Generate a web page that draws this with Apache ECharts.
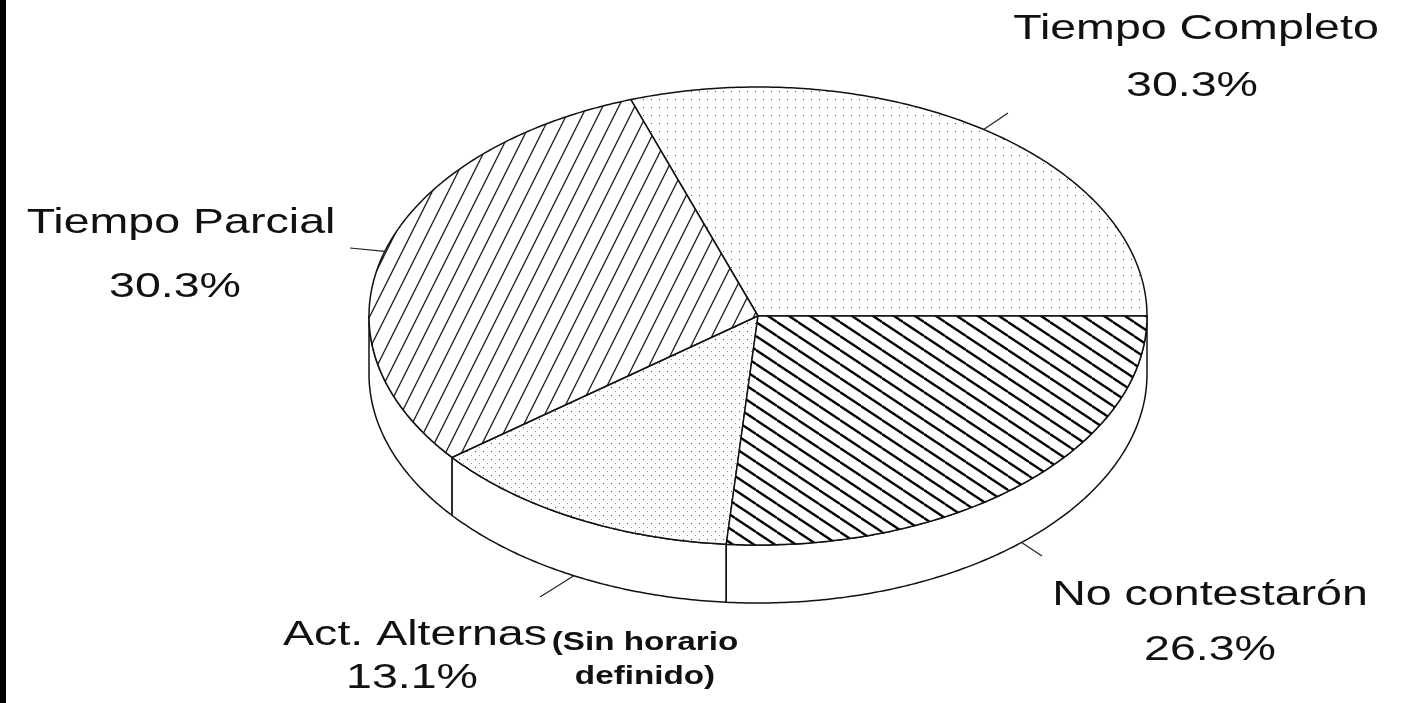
<!DOCTYPE html>
<html><head><meta charset="utf-8">
<script src="https://cdn.jsdelivr.net/npm/echarts@6/dist/echarts.min.js"></script>
<style>html,body{margin:0;padding:0;background:#fff}#c{width:1401px;height:703px}</style>
</head><body><div id="c"></div>
<script>
// ---- data ----
const categories = ['Tiempo Completo', 'Tiempo Parcial', 'Act. Alternas', 'No contestarón'];
const values = [30.3, 30.3, 13.1, 26.3];
const notes = ['', '', '(Sin horario\ndefinido)', ''];

// ---- layout / style ----
const PIE = {cx: 758, cy: 316, rx: 389, ry: 229, depth: 58};
const LABEL_LAYOUT = [
  {nameX: 1196, nameBase: 42, pctX: 1192, pctBase: 99, end: [1008, 113]},
  {nameX: 181, nameBase: 236, pctX: 175, pctBase: 300, end: [350, 248]},
  {nameX: 415, nameBase: 648, pctX: 412, pctBase: 691, end: [540, 597], noteX: 645, noteBase: [652, 686]},
  {nameX: 1210, nameBase: 608, pctX: 1210, pctBase: 663, end: [1042, 556]}
];
const FONT = 'Liberation Sans, Arial, Helvetica, sans-serif';
const FS = 35, SX = 1.33;

function makeTile(w, h, draw) {
  const c = document.createElement('canvas');
  c.width = w; c.height = h;
  const g = c.getContext('2d');
  g.fillStyle = '#fff'; g.fillRect(0, 0, w, h);
  draw(g, w, h);
  return c;
}
const dotsLight = makeTile(8, 8, (g) => { g.fillStyle = '#555'; g.fillRect(3, 3, 1, 1); });
const dotsDense = makeTile(8, 8, (g) => { g.fillStyle = '#444'; g.fillRect(3, 3, 1, 1); g.fillStyle = '#999'; g.fillRect(7, 7, 1, 1); });
const hatchUp = makeTile(16, 32, (g, w, h) => {
  g.strokeStyle = '#222'; g.lineWidth = 1.3;
  for (let k = -1; k <= 1; k++) { g.beginPath(); g.moveTo(k * w, h); g.lineTo(k * w + w, 0); g.stroke(); }
});
const hatchDown = makeTile(21, 14, (g, w, h) => {
  g.strokeStyle = '#000'; g.lineWidth = 2.3;
  for (let k = -1; k <= 1; k++) { g.beginPath(); g.moveTo(0, k * h); g.lineTo(w, k * h + h); g.stroke(); }
});
const PATTERNS = [dotsLight, hatchUp, dotsDense, hatchDown];

const total = values.reduce((a, b) => a + b, 0);
const starts = [];
let acc = 0;
values.forEach(v => { starts.push(acc); acc += v; });
const ang = p => -p / total * 2 * Math.PI;
const pt = (t, dy) => [PIE.cx + PIE.rx * Math.cos(t), PIE.cy + PIE.ry * Math.sin(t) + (dy || 0)];
function arc(t0, t1, dy) {
  const n = Math.max(2, Math.ceil(Math.abs(t1 - t0) / 0.01));
  const pts = [];
  for (let i = 0; i <= n; i++) pts.push(pt(t0 + (t1 - t0) * i / n, dy));
  return pts;
}
function txt(x, base, s, fs, bold) {
  return {
    type: 'text', x: x, y: base - fs * 0.36, scaleX: SX, silent: true,
    style: {text: s, x: 0, y: 0, fill: '#111', fontSize: fs, fontFamily: FONT,
            fontWeight: bold ? 'bold' : 'normal', align: 'center', verticalAlign: 'middle'}
  };
}

function renderItem(params, api) {
  const i = params.dataIndex;
  const v = api.value(0);
  const a0 = ang(starts[i]), a1 = ang(starts[i] + v);
  const children = [];
  const lo = Math.max(a1, -2 * Math.PI), hi = Math.min(a0, -Math.PI);
  if (lo < hi) {
    const pts = arc(lo, hi, 0).concat(arc(hi, lo, PIE.depth));
    children.push({type: 'polygon', shape: {points: pts},
      style: {fill: '#fff', stroke: '#111', lineWidth: 1.5, lineJoin: 'round'}});
  }
  const top = [[PIE.cx, PIE.cy]].concat(arc(a0, a1, 0));
  children.push({type: 'polygon', shape: {points: top},
    style: {fill: {image: PATTERNS[i], repeat: 'repeat'}, stroke: '#111', lineWidth: 1.5, lineJoin: 'round'}});
  const mid = (a0 + a1) / 2;
  const front = Math.sin(mid) > 0;
  const rim = pt(mid, front ? PIE.depth : 0);
  const L = LABEL_LAYOUT[i];
  children.push({type: 'line', shape: {x1: rim[0], y1: rim[1], x2: L.end[0], y2: L.end[1]},
    style: {stroke: '#222', lineWidth: 1.2}});
  children.push(txt(L.nameX, L.nameBase, categories[i], FS, false));
  children.push(txt(L.pctX, L.pctBase, v.toFixed(1) + '%', FS, false));
  if (notes[i]) {
    const lines = notes[i].split('\n');
    lines.forEach((s, k) => children.push(txt(L.noteX, L.noteBase[k], s, 25, true)));
  }
  return {type: 'group', children: children};
}

const chart = echarts.init(document.getElementById('c'), null, {renderer: 'canvas'});
chart.setOption({
  backgroundColor: '#fff',
  animation: false,
  graphic: [{type: 'rect', left: 0, top: 0, shape: {width: 6, height: 703}, style: {fill: '#000'}, silent: true}],
  series: [{
    type: 'custom',
    coordinateSystem: 'none',
    silent: true,
    renderItem: renderItem,
    data: values.map((v, i) => ({name: categories[i], value: [v]}))
  }]
});
</script>
</body></html>
